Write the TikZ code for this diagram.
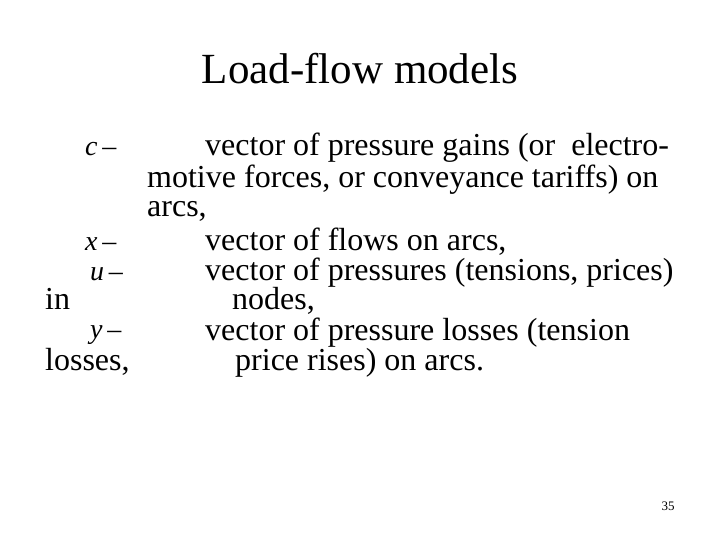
\documentclass[tikz,border=0pt]{standalone}
\usepackage{fontspec}
\setmainfont{Liberation Serif}
\begin{document}
\begin{tikzpicture}[x=1pt,y=-1pt,
  body/.style={anchor=base west,inner sep=0,font=\fontsize{32}{36}\selectfont},
  sym/.style={anchor=base west,inner sep=0,font=\fontsize{28}{32}\selectfont\itshape}]
\useasboundingbox (0,0) rectangle (720,540);
\node[anchor=base,inner sep=0,font=\fontsize{43}{48}\selectfont] (title) at (360,84) {Load-flow models};
\node[sym] (c) at (85,156) {c\,--};
\node[sym] (x) at (85,250) {x\,--};
\node[sym] (u) at (90,280) {u\,--};
\node[body] (in) at (45,309) {in};
\node[sym] (y) at (90,338) {y\,--};
\node[body] (l) at (45,370) {losses,};
\node[body] (t1) at (205,156) {vector of pressure gains (or\ \ electro-};
\node[body] (t2) at (147,188) {motive forces, or conveyance tariffs) on};
\node[body] (t3) at (147,217) {arcs,};
\node[body] (t4) at (205,250) {vector of flows on arcs,};
\node[body] (t5) at (205,280) {vector of pressures (tensions, prices)};
\node[body] (t6) at (232,309) {nodes,};
\node[body] (t7) at (205,340) {vector of pressure losses (tension};
\node[body] (t8) at (235,370) {price rises) on arcs.};
\node[anchor=base,inner sep=0,font=\fontsize{13}{15}\selectfont] (n) at (668,510) {35};
\end{tikzpicture}
\end{document}
